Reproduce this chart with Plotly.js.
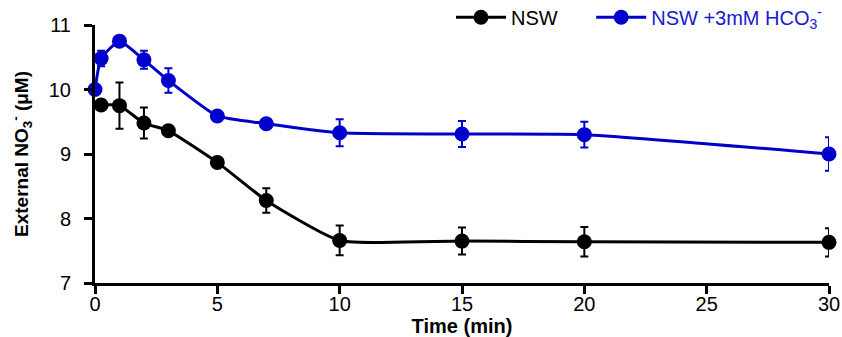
<!DOCTYPE html>
<html>
<head>
<meta charset="utf-8">
<script src="https://cdn.plot.ly/plotly-3.0.1.min.js"></script>
<style>html,body{margin:0;padding:0;background:#fff;}#chart{width:842px;height:337px;}</style>
</head>
<body>
<div id="chart"></div>
<script>
// Data
const timeNSW = [0.25, 1, 2, 3, 5, 7, 10, 15, 20, 30];
const valNSW  = [9.76, 9.75, 9.48, 9.36, 8.87, 8.28, 7.66, 7.65, 7.64, 7.63];
const errNSW  = [0.05, 0.36, 0.24, 0.08, 0.04, 0.19, 0.23, 0.21, 0.23, 0.22];

const timeHCO = [0, 0.25, 1, 2, 3, 5, 7, 10, 15, 20, 30];
const valHCO  = [10.0, 10.48, 10.75, 10.46, 10.14, 9.59, 9.47, 9.33, 9.31, 9.30, 9.0];
const errHCO  = [0.03, 0.12, 0.04, 0.14, 0.19, 0.03, 0.03, 0.21, 0.20, 0.20, 0.26];

const xTicks = [0, 5, 10, 15, 20, 25, 30];
const yTicks = [7, 8, 9, 10, 11];

const BLUE = '#0000CC';

const traces = [
  {
    x: timeNSW, y: valNSW, name: 'NSW', type: 'scatter', mode: 'lines+markers',
    line: {color: '#000', width: 3, shape: 'spline', smoothing: 0.5},
    marker: {color: '#000', size: 15},
    error_y: {type: 'data', array: errNSW, visible: true, color: '#000', thickness: 2, width: 4},
    cliponaxis: false, legend: 'legend'
  },
  {
    x: timeHCO, y: valHCO, name: '<span style="color:#1a1acc">NSW +3mM HCO<sub>3</sub><sup>-</sup></span>',
    type: 'scatter', mode: 'lines+markers',
    line: {color: BLUE, width: 3, shape: 'spline', smoothing: 0.5},
    marker: {color: BLUE, size: 15},
    error_y: {type: 'data', array: errHCO, visible: true, color: BLUE, thickness: 2, width: 4},
    cliponaxis: false, legend: 'legend2'
  }
];

const legendBase = {
  orientation: 'h', xanchor: 'left', y: 1.03, yanchor: 'middle',
  font: {size: 20, color: '#000'}, bgcolor: 'rgba(0,0,0,0)', itemwidth: 50
};

const layout = {
  width: 842, height: 337,
  margin: {l: 95, r: 13, t: 25, b: 54, autoexpand: false},
  paper_bgcolor: '#fff', plot_bgcolor: '#fff',
  font: {family: 'Liberation Sans, Arial, sans-serif', color: '#000', size: 19},
  showlegend: true,
  legend: Object.assign({}, legendBase, {x: 0.485}),
  legend2: Object.assign({}, legendBase, {x: 0.676}),
  xaxis: {
    range: [0, 30], tickvals: xTicks, ticktext: xTicks.map(String),
    showgrid: false, zeroline: false, showline: true, linecolor: '#000', linewidth: 3,
    ticks: 'outside', ticklen: 8, tickwidth: 3, tickcolor: '#000',
    tickfont: {size: 20}, ticklabelstandoff: -7, automargin: true,
    title: {text: '<b>Time (min)</b>', font: {size: 20}, standoff: 2}
  },
  yaxis: {
    range: [7, 11], tickvals: yTicks, ticktext: yTicks.map(String),
    showgrid: false, zeroline: false, showline: true, linecolor: '#000', linewidth: 3,
    ticks: 'outside', ticklen: 8, tickwidth: 3, tickcolor: '#000',
    tickfont: {size: 20}, ticklabelstandoff: 9, automargin: true,
    title: {text: '<b>External NO<sub>3</sub><sup>-</sup> (μM)</b>', font: {size: 19}, standoff: 16}
  }
};

Plotly.newPlot('chart', traces, layout, {displayModeBar: false, staticPlot: true});
</script>
</body>
</html>
